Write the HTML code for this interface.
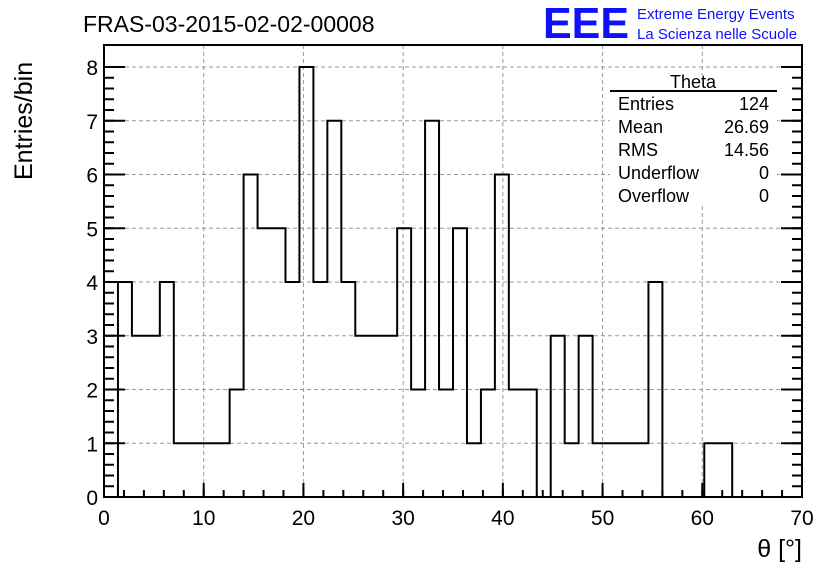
<!DOCTYPE html>
<html><head><meta charset="utf-8"><style>
body{margin:0;background:#fff;}
svg text{font-family:"Liberation Sans",sans-serif;}
</style></head><body>
<svg id="chart" width="836" height="572" viewBox="0 0 836 572" xmlns="http://www.w3.org/2000/svg">
<rect width="836" height="572" fill="#fff"/>
<g id="grid"></g>
<g id="axes"></g>
<path id="hist" fill="none" stroke="#000" stroke-width="2"/>
<rect x="104" y="45" width="698" height="452" fill="none" stroke="#000" stroke-width="2"/>
<text x="83" y="32" font-size="23">FRAS-03-2015-02-02-00008</text>
<text x="543" y="38" font-size="44" fill="#1010ff" font-weight="bold" textLength="86" lengthAdjust="spacingAndGlyphs">EEE</text>
<text x="637" y="19" font-size="15" fill="#1010ff">Extreme Energy Events</text>
<text x="637" y="39" font-size="15" fill="#1010ff">La Scienza nelle Scuole</text>
<text transform="translate(32,180) rotate(-90)" font-size="25">Entries/bin</text>
<text x="802" y="557" font-size="25" text-anchor="end">θ [°]</text>
<g font-size="18">
<rect x="610" y="76" width="167" height="129" fill="#fff"/>
<text x="693" y="88" text-anchor="middle">Theta</text>
<line x1="610" y1="91" x2="777" y2="91" stroke="#000" stroke-width="2"/>
<text x="618" y="110">Entries</text><text x="769" y="110" text-anchor="end">124</text>
<text x="618" y="133">Mean</text><text x="769" y="133" text-anchor="end">26.69</text>
<text x="618" y="156">RMS</text><text x="769" y="156" text-anchor="end">14.56</text>
<text x="618" y="179">Underflow</text><text x="769" y="179" text-anchor="end">0</text>
<text x="618" y="202">Overflow</text><text x="769" y="202" text-anchor="end">0</text>
</g>
</svg>
<script>
const counts=[0,4,3,3,4,1,1,1,1,2,6,5,5,4,8,4,7,4,3,3,3,5,2,7,2,5,1,2,6,2,2,0,3,1,3,1,1,1,1,4,0,0,0,1,1,0,0,0,0,0];
const binWidth=1.4;
const xTicks=[0,10,20,30,40,50,60,70];
const yTicks=[0,1,2,3,4,5,6,7,8];
const X0=104,X1=802,Y0=497,Y1=67;
const sx=v=>X0+(v/70)*(X1-X0);
const sy=v=>Y0-(v/8)*(Y0-Y1);
const NS="http://www.w3.org/2000/svg";
const grid=document.getElementById('grid'),axes=document.getElementById('axes');
function ln(p,x1,y1,x2,y2,st,w,dash){const l=document.createElementNS(NS,'line');l.setAttribute('x1',x1);l.setAttribute('y1',y1);l.setAttribute('x2',x2);l.setAttribute('y2',y2);l.setAttribute('stroke',st);l.setAttribute('stroke-width',w);if(dash)l.setAttribute('stroke-dasharray',dash);p.appendChild(l);return l;}
function tx(p,x,y,s,anchor){const t=document.createElementNS(NS,'text');t.setAttribute('x',x);t.setAttribute('y',y);t.setAttribute('font-size','21');t.setAttribute('text-anchor',anchor);t.textContent=s;p.appendChild(t);return t;}
xTicks.forEach(v=>{const x=sx(v);
 if(v>0&&v<70){const g=ln(grid,x,45,x,497,'#999',1,'4,3');
 
 }
 ln(axes,x,497,x,483,'#000',2);
 const t=tx(axes,x,525,String(v),'middle');
 
 
});
for(let v=0;v<=70;v+=2){ln(axes,sx(v),497,sx(v),490,'#000',2);}
yTicks.forEach(v=>{const y=sy(v);
 if(v>0){const g=ln(grid,104,y,802,y,'#999',1,'4,3');
 
 }
 ln(axes,104,y,125,y,'#000',2);ln(axes,802,y,781,y,'#000',2);
 const t=tx(axes,98,y+8,String(v),'end');
 
 
});
for(let v=0;v<=8.01;v+=0.2){ln(axes,104,sy(v),114,sy(v),'#000',2);ln(axes,802,sy(v),792,sy(v),'#000',2);}
let d='M'+sx(0)+','+sy(0);
counts.forEach((c,i)=>{d+=' L'+sx(i*binWidth)+','+sy(c)+' L'+sx((i+1)*binWidth)+','+sy(c);});
d+=' L'+sx(counts.length*binWidth)+','+sy(0);
document.getElementById('hist').setAttribute('d',d);
</script>
</body></html>
